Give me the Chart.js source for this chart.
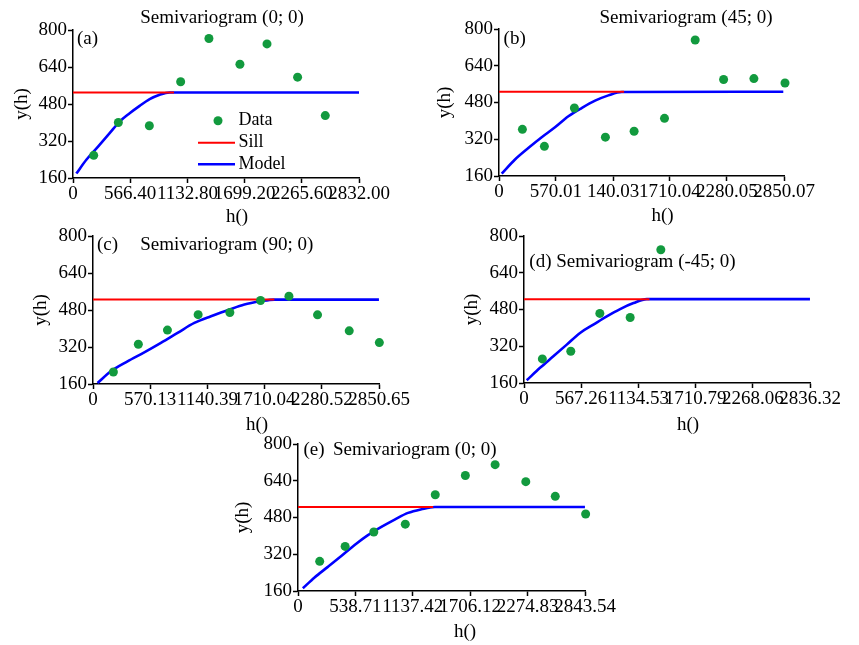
<!DOCTYPE html>
<html>
<head>
<meta charset="utf-8">
<script src="https://cdn.jsdelivr.net/npm/chart.js@4"></script>
<style>
    body { margin: 0; background: #fff; }
    #page { position: relative; width: 859px; height: 645px; overflow: hidden; background: #fff; }
    canvas { position: absolute; }
</style>
</head>
<body>
<div id="page">
    <canvas id="chartA"></canvas>
    <canvas id="chartB"></canvas>
    <canvas id="chartC"></canvas>
    <canvas id="chartD"></canvas>
    <canvas id="chartE"></canvas>
</div>
<script>
const yTicks = [160, 320, 480, 640, 800];

// (a) Semivariogram (0; 0)
const aTicks = [0, 566.4, 1132.8, 1699.2, 2265.6, 2832];
const aLabels = ['0', '566.40', '1132.80', '1699.20', '2265.60', '2832.00'];
const aDataH = [205, 449, 756, 1066, 1346, 1653, 1921, 2224, 2498];
const aDataG = [258, 400, 386, 576, 763, 652, 740, 596, 430];
const aModelH = [33, 132, 248, 363, 462, 561, 660, 759, 858, 957, 2832];
const aModelG = [179, 239, 296, 354, 404, 440, 472, 501, 520, 530, 530];
const aSillH = [0, 1000];
const aSill = 530;

// (b) Semivariogram (45; 0)
const bTicks = [0, 570.01, 1140.03, 1710.04, 2280.05, 2850.07];
const bLabels = ['0', '570.01', '140.03', '1710.04', '2280.05', '2850.07'];
const bDataH = [234, 454, 754, 1064, 1351, 1655, 1962, 2246, 2549, 2860];
const bDataG = [363, 289, 456, 329, 355, 411, 752, 580, 584, 565];
const bModelH = [27, 160, 293, 427, 560, 694, 827, 961, 1094, 1228, 2843];
const bModelG = [170, 232, 282, 329, 372, 420, 456, 488, 511, 526, 527];
const bSillH = [0, 1251];
const bSill = 527;

// (c) Semivariogram (90; 0)
const cTicks = [0, 570.13, 1140.26, 1710.39, 2280.52, 2850.65];
const cLabels = ['0', '570.13', '1140.39', '1710.04', '2280.52', '2850.65'];
const cDataH = [203, 452, 742, 1048, 1364, 1670, 1953, 2238, 2554, 2854];
const cDataG = [212, 332, 393, 460, 469, 521, 540, 459, 390, 339];
const cModelH = [45, 178, 344, 511, 677, 843, 1010, 1176, 1342, 1509, 1675, 1808, 2850];
const cModelG = [164, 215, 258, 297, 338, 381, 424, 453, 479, 504, 518, 525, 525];
const cSillH = [0, 1808];
const cSill = 525;

// (d) Semivariogram (-45; 0)
const dTicks = [0, 567.26, 1134.53, 1701.79, 2269.06, 2836.32];
const dLabels = ['0', '567.26', '1134.53', '1710.79', '2268.06', '2836.32'];
const dDataH = [182, 464, 752, 1053, 1357];
const dDataG = [265, 298, 463, 445, 740];
const dModelH = [27, 159, 291, 424, 556, 688, 821, 953, 1086, 1218, 2836];
const dModelG = [172, 226, 276, 327, 378, 414, 450, 482, 508, 525, 525];
const dSillH = [0, 1244];
const dSill = 525;

// (e) Semivariogram (0; 0)
const eTicks = [0, 568.71, 1137.42, 1706.12, 2274.83, 2843.54];
const eLabels = ['0', '538.71', '1137.42', '1706.12', '2274.83', '2843.54'];
const eDataH = [215, 467, 751, 1063, 1360, 1658, 1953, 2257, 2549, 2850];
const eDataG = [289, 354, 417, 451, 579, 663, 710, 636, 572, 495];
const eModelH = [48, 164, 296, 429, 561, 693, 826, 958, 1090, 1223, 1356, 2843];
const eModelG = [172, 219, 265, 312, 360, 403, 439, 471, 500, 516, 526, 526];
const eSillH = [0, 1339];
const eSill = 526;

const FONT = '"Liberation Serif", "Times New Roman", serif';
const GREEN = '#129a3e';

function toPoints(xs, ys) {
    return xs.map((x, i) => ({ x: x, y: ys[i] }));
}

// draws titles, axis titles and the small legend of panel (a)
const panelText = {
    id: 'panelText',
    afterDraw(chart, args, opts) {
        const { ctx, chartArea } = chart;
        ctx.save();
        ctx.fillStyle = '#000';
        ctx.textBaseline = 'middle';
        (opts.items || []).forEach(t => {
            ctx.save();
            ctx.font = (t.size || 19) + 'px ' + FONT;
            ctx.textAlign = t.align || 'center';
            ctx.translate(chartArea.left + t.x, chartArea.top + t.y);
            if (t.rot) ctx.rotate(t.rot);
            ctx.fillText(t.text, 0, 0);
            ctx.restore();
        });
        if (opts.legend) {
            const lg = opts.legend;
            const x0 = chartArea.left, y0 = chartArea.top;
            ctx.font = '18px ' + FONT;
            ctx.textAlign = 'left';
            // Data
            ctx.fillStyle = GREEN;
            ctx.beginPath();
            ctx.arc(x0 + lg.dotX, y0 + lg.rows[0], 4.5, 0, Math.PI * 2);
            ctx.fill();
            ctx.fillStyle = '#000';
            ctx.fillText('Data', x0 + lg.textX, y0 + lg.rows[0]);
            // Sill + Model
            [['Sill', '#ff0000', 2], ['Model', '#0000ff', 2.5]].forEach((it, i) => {
                const y = y0 + lg.rows[i + 1];
                ctx.strokeStyle = it[1];
                ctx.lineWidth = it[2];
                ctx.beginPath();
                ctx.moveTo(x0 + lg.lineX[0], y);
                ctx.lineTo(x0 + lg.lineX[1], y);
                ctx.stroke();
                ctx.fillText(it[0], x0 + lg.textX, y);
            });
        }
        ctx.restore();
    }
};

function makePanel(id, box, ticks, labels, dataH, dataG, modelH, modelG, sillH, sill, items, legend) {
    const canvas = document.getElementById(id);
    canvas.style.left = (box.l - 70) + 'px';
    canvas.style.top = (box.t - 25) + 'px';
    canvas.width = box.r - box.l + 115;
    canvas.height = box.b - box.t + 80;

    const axisFont = { family: FONT, size: 19 };
    return new Chart(canvas.getContext('2d'), {
        type: 'scatter',
        data: {
            datasets: [{
                label: 'Data',
                data: toPoints(dataH, dataG),
                pointRadius: 4.5,
                pointHoverRadius: 4.5,
                pointBackgroundColor: GREEN,
                pointBorderWidth: 0,
                clip: false
            }, {
                label: 'Sill',
                data: toPoints(sillH, [sill, sill]),
                showLine: true,
                borderColor: '#ff0000',
                borderWidth: 2,
                pointRadius: 0
            }, {
                label: 'Model',
                data: toPoints(modelH, modelG),
                showLine: true,
                borderColor: '#0000ff',
                borderWidth: 2.6,
                pointRadius: 0,
                cubicInterpolationMode: 'monotone'
            }]
        },
        options: {
            responsive: false,
            animation: false,
            devicePixelRatio: 1,
            layout: { padding: { left: 0, top: 25, right: 45, bottom: 0 } },
            plugins: {
                legend: { display: false },
                tooltip: { enabled: false },
                panelText: { items: items, legend: legend }
            },
            scales: {
                x: {
                    type: 'linear',
                    min: 0,
                    max: ticks[ticks.length - 1],
                    afterBuildTicks: s => { s.ticks = ticks.map(v => ({ value: v })); },
                    afterFit: s => { s.height = 55; },
                    ticks: {
                        autoSkip: false,
                        maxRotation: 0,
                        minRotation: 0,
                        padding: 0,
                        color: '#000',
                        font: axisFont,
                        callback: (v, i) => labels[i]
                    },
                    grid: { drawOnChartArea: false, tickLength: 5, color: '#000', tickWidth: 1.5 },
                    border: { color: '#000', width: 1.5 }
                },
                y: {
                    type: 'linear',
                    min: 160,
                    max: 800,
                    afterBuildTicks: s => { s.ticks = yTicks.map(v => ({ value: v })); },
                    afterFit: s => { s.width = 70; },
                    ticks: {
                        padding: 1,
                        color: '#000',
                        font: axisFont
                    },
                    grid: { drawOnChartArea: false, tickLength: 5, color: '#000', tickWidth: 1.5 },
                    border: { color: '#000', width: 1.5 }
                }
            }
        },
        plugins: [panelText]
    });
}

const ROT = -Math.PI / 2;

makePanel('chartA', { l: 73, t: 30, r: 359, b: 178 }, aTicks, aLabels,
    aDataH, aDataG, aModelH, aModelG, aSillH, aSill, [
        { text: 'Semivariogram (0; 0)', x: 149, y: -11.5 },
        { text: '(a)', x: 14.5, y: 9 },
        { text: 'y(h)', x: -51, y: 74, rot: ROT },
        { text: 'h()', x: 164, y: 187.5 }
    ], { dotX: 145, lineX: [125, 162], textX: 165.5, rows: [90.7, 112.7, 134.3] });

makePanel('chartB', { l: 499, t: 29, r: 784, b: 176 }, bTicks, bLabels,
    bDataH, bDataG, bModelH, bModelG, bSillH, bSill, [
        { text: 'Semivariogram (45; 0)', x: 187, y: -10.7 },
        { text: '(b)', x: 15.7, y: 10.2 },
        { text: 'y(h)', x: -54, y: 73.5, rot: ROT },
        { text: 'h()', x: 163.5, y: 187 }
    ]);

makePanel('chartC', { l: 93, t: 236, r: 379, b: 384 }, cTicks, cLabels,
    cDataH, cDataG, cModelH, cModelG, cSillH, cSill, [
        { text: '(c)', x: 14.5, y: 9.5 },
        { text: 'Semivariogram (90; 0)', x: 133.7, y: 9.5 },
        { text: 'y(h)', x: -52, y: 74, rot: ROT },
        { text: 'h()', x: 164, y: 189 }
    ]);

makePanel('chartD', { l: 524, t: 236, r: 810, b: 383 }, dTicks, dLabels,
    dDataH, dDataG, dModelH, dModelG, dSillH, dSill, [
        { text: '(d) Semivariogram (-45; 0)', x: 108.5, y: 26.5 },
        { text: 'y(h)', x: -52, y: 73.5, rot: ROT },
        { text: 'h()', x: 164, y: 189 }
    ]);

makePanel('chartE', { l: 298, t: 444, r: 585, b: 591 }, eTicks, eLabels,
    eDataH, eDataG, eModelH, eModelG, eSillH, eSill, [
        { text: '(e)', x: 16, y: 6.5 },
        { text: 'Semivariogram (0; 0)', x: 116.7, y: 6.5 },
        { text: 'y(h)', x: -54.7, y: 73.5, rot: ROT },
        { text: 'h()', x: 167, y: 188.5 }
    ]);
</script>
</body>
</html>
